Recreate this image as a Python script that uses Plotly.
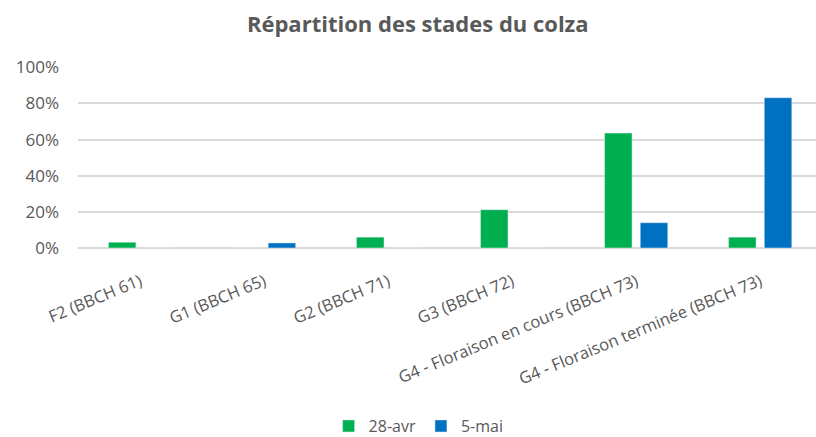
import plotly.graph_objects as go

categories = ["F2 (BBCH 61)", "G1 (BBCH 65)", "G2 (BBCH 71)", "G3 (BBCH 72)",
              "G4 - Floraison en cours (BBCH 73)", "G4 - Floraison terminée (BBCH 73)"]
serie_28_avr = [0.032, 0.0, 0.060, 0.212, 0.636, 0.060]
serie_5_mai = [0.0, 0.028, 0.0, 0.0, 0.140, 0.832]
series_names = ["28-avr", "5-mai"]
y_ticks = [0, 0.2, 0.4, 0.6, 0.8, 1.0]

GREEN = "#00B050"
BLUE = "#0070C0"
GREY = "#595959"
FONT = "Open Sans"

fig = go.Figure()
fig.add_trace(go.Bar(x=categories, y=serie_28_avr, name=series_names[0], marker_color=GREEN))
fig.add_trace(go.Bar(x=categories, y=serie_5_mai, name=series_names[1], marker_color=BLUE))

fig.update_layout(
    width=816, height=437,
    paper_bgcolor="white", plot_bgcolor="white",
    margin=dict(l=78, r=0, t=67, b=189, autoexpand=False),
    barmode="group", bargap=0.424, bargroupgap=0.23,
    font=dict(family=FONT, color=GREY, size=16),
    title=dict(text="<b>Répartition des stades du colza</b>",
               font=dict(family=FONT, size=22, color=GREY),
               xref="container", x=0.512, xanchor="center",
               yref="container", y=0.945, yanchor="middle"),
    legend=dict(orientation="h", xref="container", x=0.513, xanchor="center",
                yref="container", y=0.025, yanchor="middle",
                font=dict(size=16, color=GREY), itemwidth=30,
                traceorder="normal"),
    showlegend=True,
)
fig.update_xaxes(range=[-0.5, 5.45], tickangle=-22.5, showgrid=False, showline=False,
                 ticks="", automargin=False, ticklabelstandoff=20,
                 tickfont=dict(size=16.5, color=GREY))
fig.update_yaxes(range=[0, 1.002], tickvals=y_ticks, tickformat=".0%",
                 showgrid=True, gridcolor="#D9D9D9", gridwidth=1.5,
                 zeroline=True, zerolinecolor="#D9D9D9", zerolinewidth=1.5,
                 showline=False, ticks="", ticklabelstandoff=18, automargin=False,
                 tickfont=dict(size=17, color=GREY))

fig.write_html("out.html", config={"displayModeBar": False},
               post_script="document.body.style.margin='0';")
